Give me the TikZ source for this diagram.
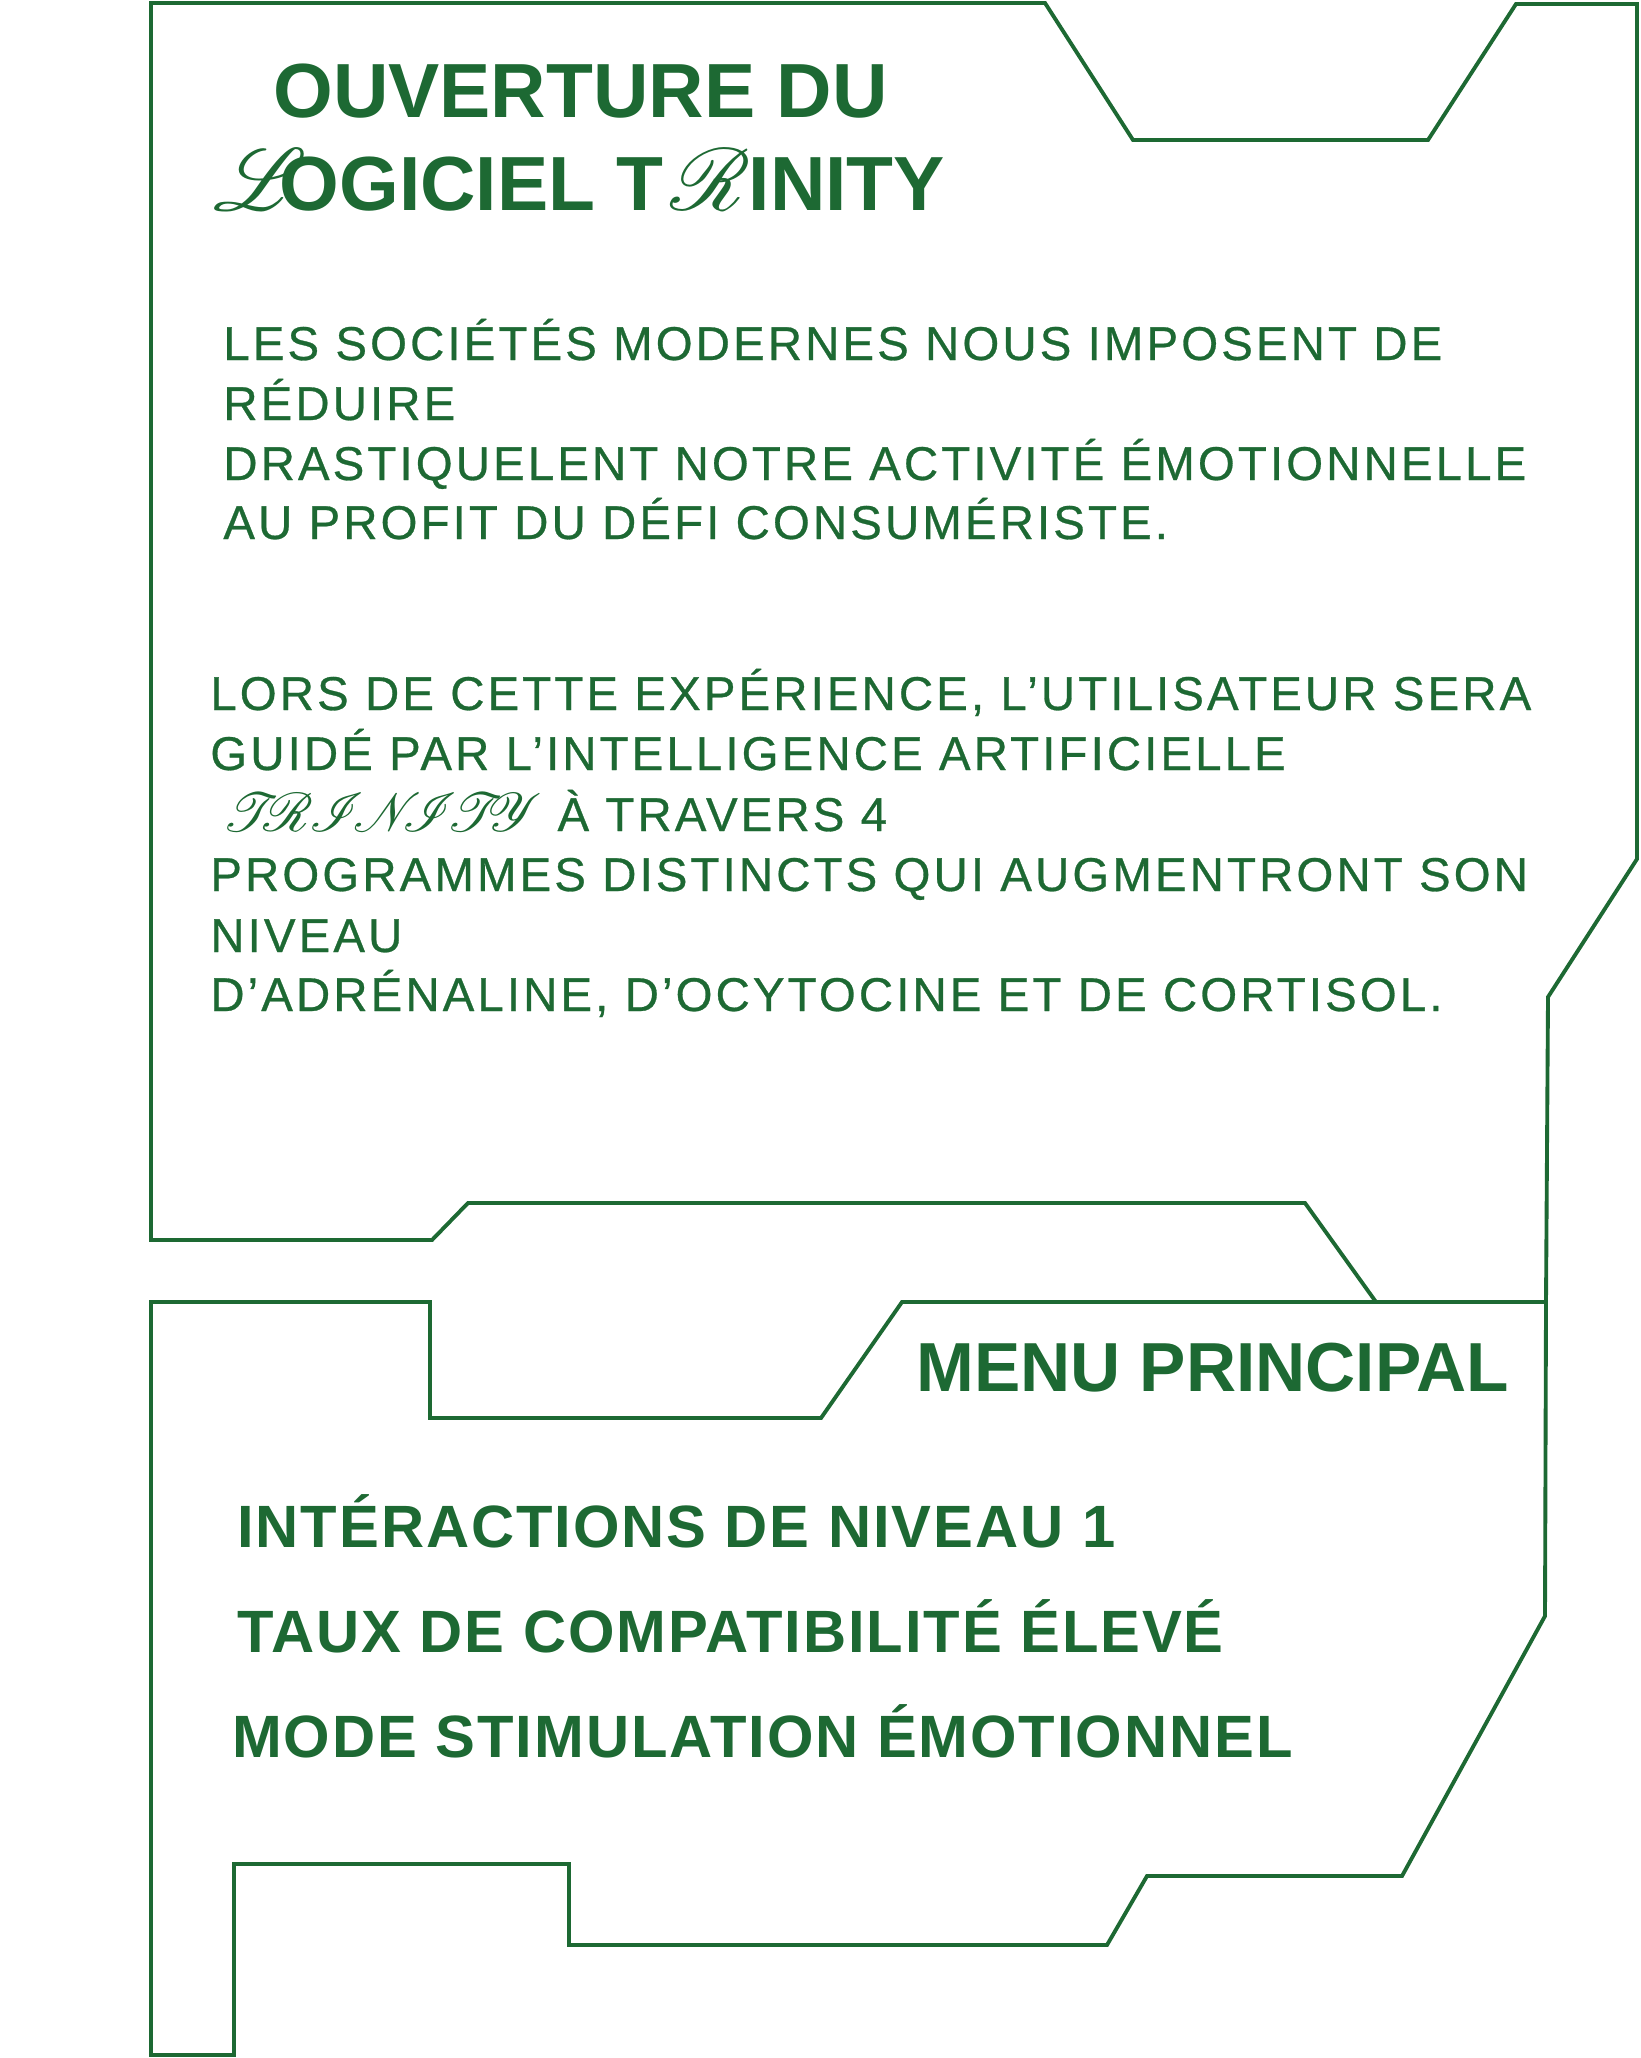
\documentclass[tikz,border=0pt]{standalone}
\usepackage{fontspec}
\usepackage{tikz}
\usetikzlibrary{positioning}
\setmainfont{Liberation Sans}
\newfontfamily\bodyfont[LetterSpace=6.5,FakeBold=0.6]{Liberation Sans}
\newfontfamily\menufont[LetterSpace=3.2]{Liberation Sans}
\font\scriptcap=rsfs10 at 50pt
\font\trinityscript=rsfs10 at 31pt
\definecolor{trinitygreen}{RGB}{29,105,51}

\begin{document}
\begin{tikzpicture}[x=0.02cm,y=-0.02cm,
	frame/.style={draw=trinitygreen,line width=2.2pt},
	txt/.style={anchor=base west,inner sep=0pt,text=trinitygreen},
	head/.style={txt,font=\fontsize{43.7}{50}\selectfont\bfseries},
	body/.style={txt,font=\fontsize{27}{32}\selectfont\bodyfont},
	menu/.style={txt,font=\fontsize{34}{38}\selectfont\menufont\bfseries}]
	\useasboundingbox (0,0) rectangle (1640,2058);

	% upper panel
	\draw[frame] (151,3) -- (1045,3) -- (1133,140) -- (1428,140) -- (1516,4) -- (1637,4)
		-- (1637,859) -- (1548,997) -- (1546,1302) -- (1376,1302) -- (1305,1203)
		-- (468,1203) -- (432,1240) -- (151,1240) -- cycle;
	% lower panel
	\draw[frame] (151,1302) -- (430,1302) -- (430,1418) -- (821,1418) -- (902,1302)
		-- (1546,1302) -- (1545,1616) -- (1402,1876) -- (1147,1876) -- (1107,1945)
		-- (569,1945) -- (569,1864) -- (234,1864) -- (234,2055) -- (151,2055) -- cycle;

	\node[head] (ttla) at (273,118) {OUVERTURE DU};
	\node[head] (ttlb) at (213,211) {{\scriptcap L}\kern-6pt OGICIEL T\kern4pt{\scriptcap R}\kern2pt INITY};

	\node[body] (inta) at (223,360) {LES SOCIÉTÉS MODERNES NOUS IMPOSENT DE};
	\node[body] (intb) at (223,420) {RÉDUIRE};
	\node[body] (intc) at (223,480) {DRASTIQUELENT NOTRE ACTIVITÉ ÉMOTIONNELLE};
	\node[body] (intd) at (223,539) {AU PROFIT DU DÉFI CONSUMÉRISTE.};

	\node[body] (expa) at (210,710) {LORS DE CETTE EXPÉRIENCE, L’UTILISATEUR SERA};
	\node[body] (expb) at (210,770) {GUIDÉ PAR L’INTELLIGENCE ARTIFICIELLE};
	\node[body] (expc) at (222,831) {{\trinityscript TRINITY}\hspace{18pt}À TRAVERS 4};
	\node[body] (expd) at (210,891) {PROGRAMMES DISTINCTS QUI AUGMENTRONT SON};
	\node[body] (expe) at (210,952) {NIVEAU};
	\node[body] (expf) at (210,1011) {D’ADRÉNALINE, D’OCYTOCINE ET DE CORTISOL.};

	\node[txt,font=\fontsize{39.5}{44}\selectfont\bfseries] (mnu) at (916,1391) {MENU PRINCIPAL};
	\node[menu] (opta) at (237,1547) {INTÉRACTIONS DE NIVEAU 1};
	\node[menu] (optb) at (237,1652) {TAUX DE COMPATIBILITÉ ÉLEVÉ};
	\node[menu] (optc) at (232,1757) {MODE STIMULATION ÉMOTIONNEL};
\end{tikzpicture}
\end{document}
